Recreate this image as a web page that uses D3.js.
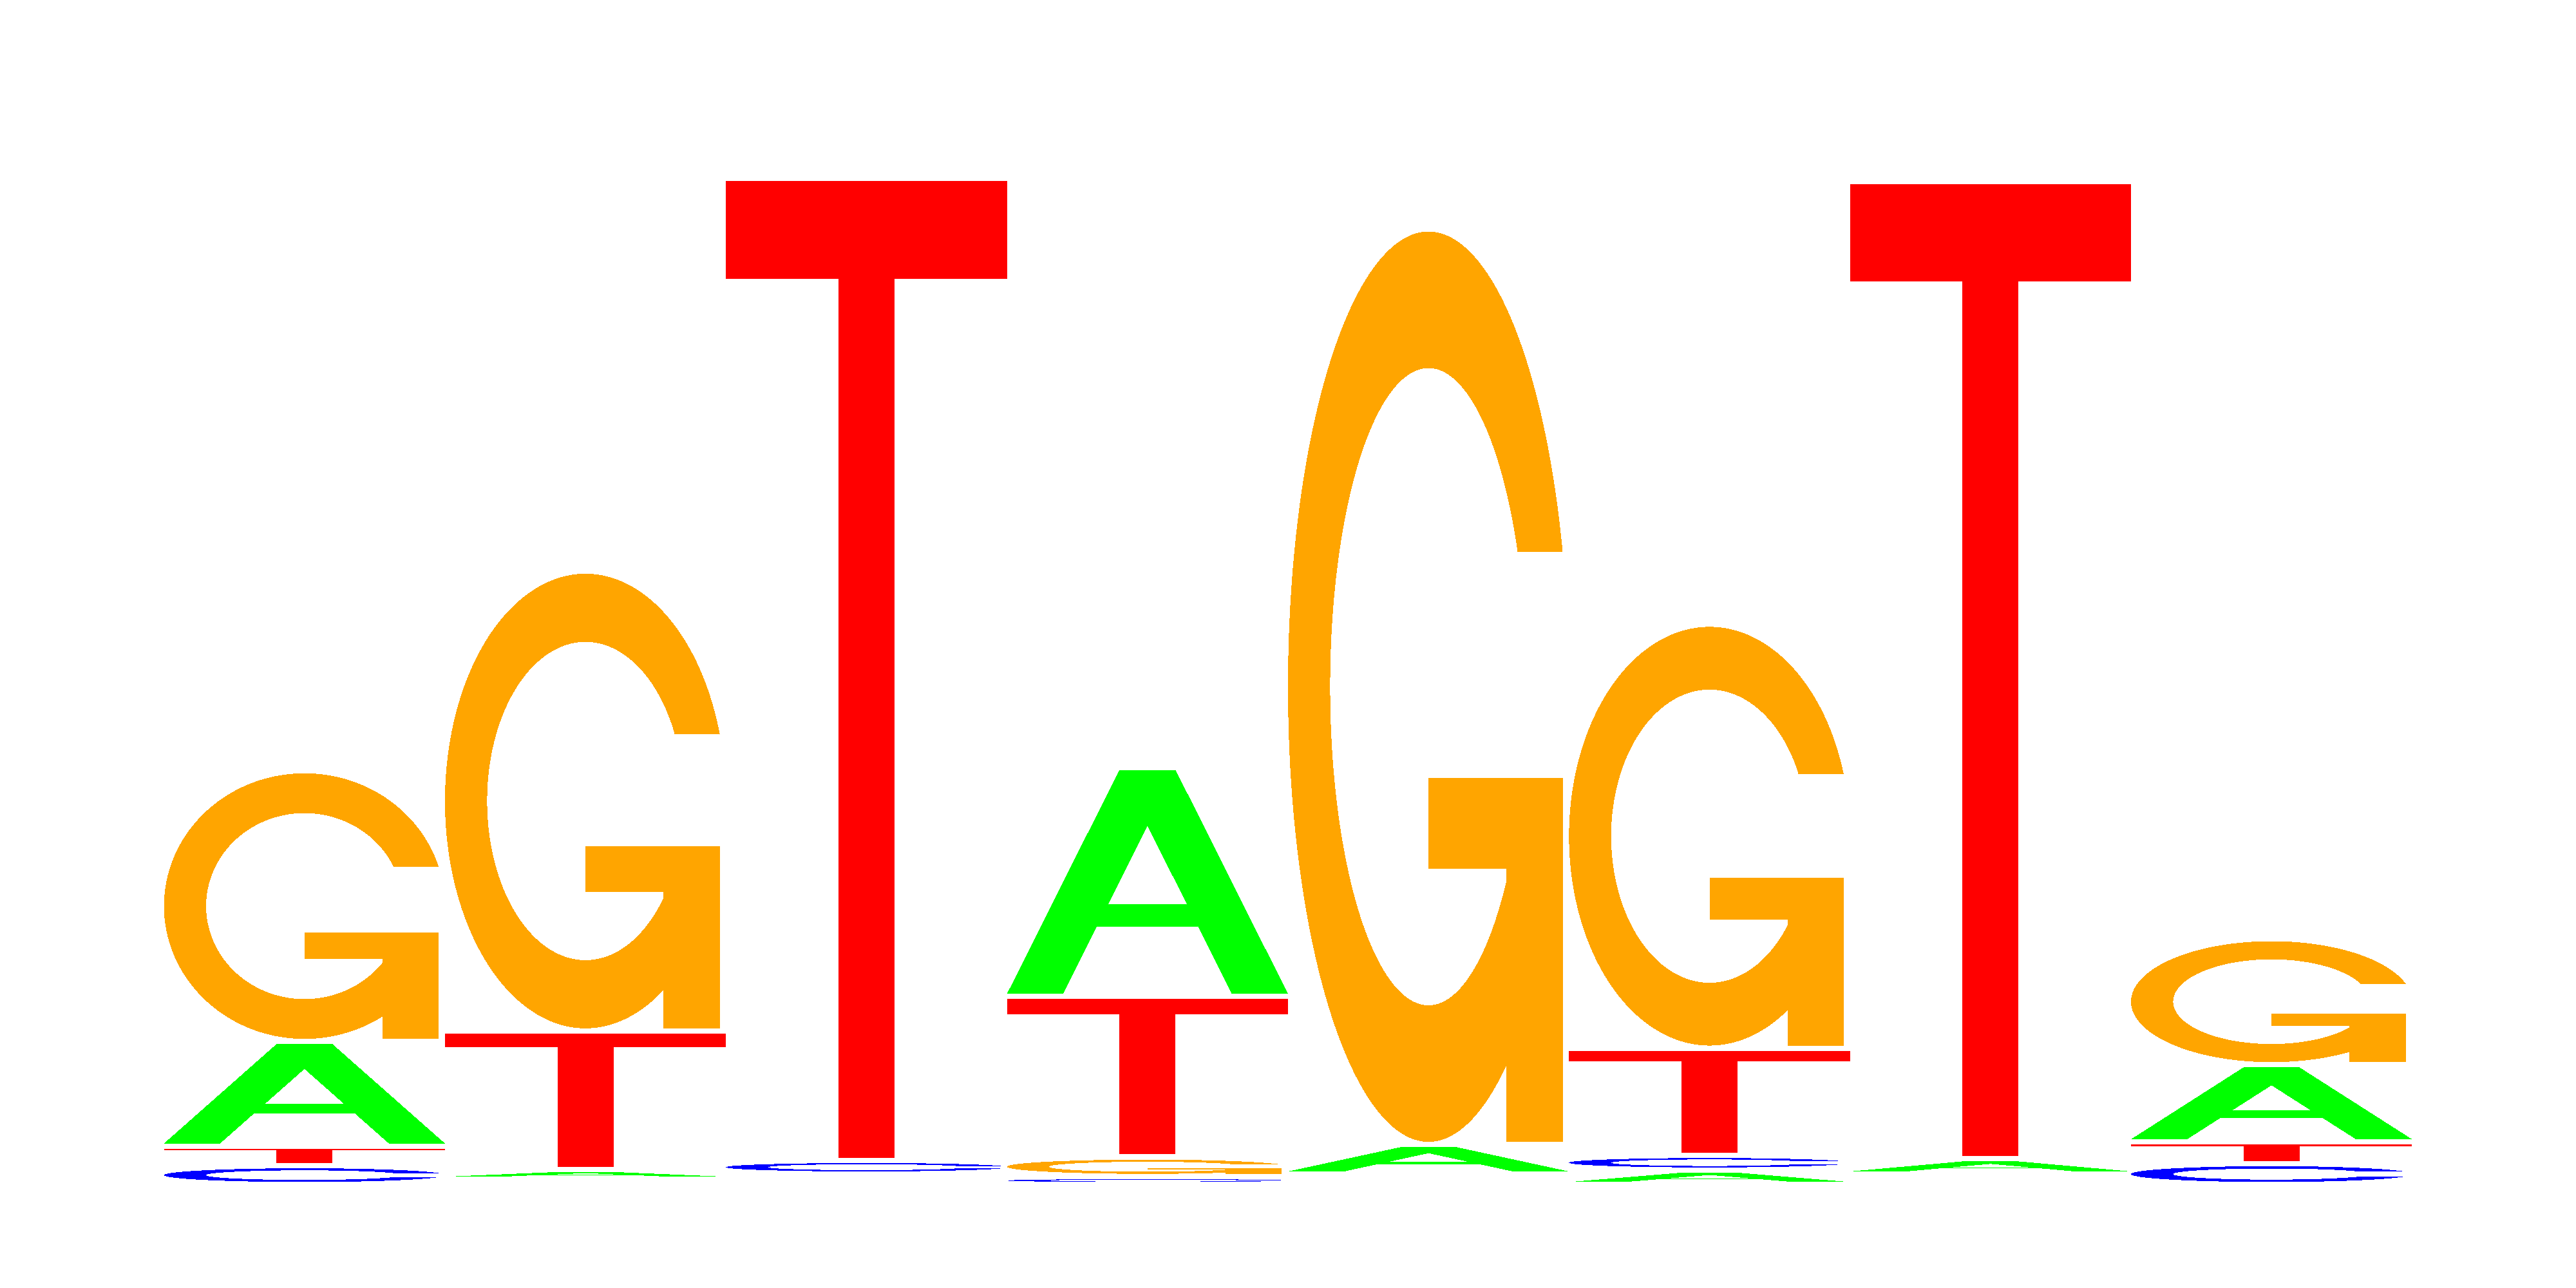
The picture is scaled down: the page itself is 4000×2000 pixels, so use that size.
<!DOCTYPE html>
<html>
<head>
<meta charset="utf-8">
<script src="https://cdn.jsdelivr.net/npm/d3@7"></script>
<style>
  html, body { margin: 0; padding: 0; background: #fff; }
  svg { display: block; }
</style>
</head>
<body>
<div id="logo"></div>
<script>
// heights in bits per position (already 0.95 * p * IC, as seqLogo does)
const positions = [1, 2, 3, 4, 5, 6, 7, 8];
const bases = ['A', 'C', 'G', 'T'];
const bitsA = [0.188, 0.009, 0, 0.424, 0.046, 0.0176, 0.019, 0.136];
const bitsC = [0.026, 0, 0.016, 0.0054, 0, 0.0178, 0, 0.030];
const bitsG = [0.503, 0.861, 0, 0.027, 1.724, 0.793, 0, 0.229];
const bitsT = [0.027, 0.252, 1.850, 0.294, 0, 0.193, 1.841, 0.031];
const ylim = 2;
const gap = 0.01;

const colors = {A: '#00ff00', C: '#0000ff', G: '#ffa500', T: '#ff0000'};

const width = 4000;
const height = 2000;
const margin = {top: 130, left: 115, bottom: 99, right: 115};

// dataViewport style: 4% extension on both ends
const xExt = positions.length * 0.04;
const yExt = ylim * 0.04;
const x = d3.scaleLinear()
    .domain([-xExt, positions.length + xExt])
    .range([margin.left, width - margin.right]);
const y = d3.scaleLinear()
    .domain([-yExt, ylim + yExt])
    .range([height - margin.bottom, margin.top]);

// letter shapes in a unit box, (0,0) bottom-left ________________________________
function ring() {
    const n = 100;
    const a1 = d3.range(n).map(i => 0.3 + Math.PI / 2 + i * (Math.PI / 2 - 0.3) / (n - 1));
    const a2 = d3.range(n).map(i => Math.PI + i * (Math.PI / 2) / (n - 1));
    const xl1 = a1.map(a => 0.5 + 0.5 * Math.sin(a)), yl1 = a1.map(a => 0.5 + 0.5 * Math.cos(a));
    const xl2 = a2.map(a => 0.5 + 0.5 * Math.sin(a)), yl2 = a2.map(a => 0.5 + 0.5 * Math.cos(a));
    const xl = xl1.concat(xl2), yl = yl1.concat(yl2);
    const xo = xl.concat(xl.slice().reverse());
    const yo = yl.concat(yl.slice().reverse().map(v => 1 - v));

    const maxY = d3.max(yl1);
    let xi1 = a1.map(a => 0.5 + 0.35 * Math.sin(a));
    let yi1 = a1.map(a => 0.5 + 0.35 * Math.cos(a));
    const keep = yi1.map(v => v <= maxY);
    xi1 = xi1.filter((d, i) => keep[i]);
    yi1 = yi1.filter((d, i) => keep[i]);
    yi1[0] = maxY;
    const xi2 = a2.map(a => 0.5 + 0.35 * Math.sin(a));
    const yi2 = a2.map(a => 0.5 + 0.35 * Math.cos(a));
    const xi = xi1.concat(xi2), yi = yi1.concat(yi2);
    const x1 = xi.concat(xi.slice().reverse());
    const y1 = yi.concat(yi.slice().reverse().map(v => 1 - v));

    const px = xo.concat(x1.slice().reverse());
    const py = yo.concat(y1.slice().reverse());
    return {pts: px.map((v, i) => [v, py[i]]), r1: d3.max(xl1)};
}

const glyphs = {
    A: [
        {fill: colors.A, pts: [[0,0],[4,10],[6,10],[10,0],[8,0],[6.8,3],[3.2,3],[2,0],[0,0]].map(p => [p[0] / 10, p[1] / 10])},
        {fill: '#ffffff', pts: [[3.6,4],[5,7.5],[6.4,4],[3.6,4]].map(p => [p[0] / 10, p[1] / 10])}
    ],
    C: [{fill: colors.C, pts: ring().pts}],
    G: (() => {
        const r = ring();
        const h1 = 0.4;
        return [
            {fill: colors.G, pts: r.pts},
            {fill: colors.G, pts: [[r.r1,h1],[0.5,h1],[0.5,h1-0.1],[r.r1-0.2,h1-0.1],[r.r1-0.2,0],[r.r1,0],[r.r1,h1]]}
        ];
    })(),
    T: [{fill: colors.T, pts: [[0,10],[10,10],[10,9],[6,9],[6,0],[4,0],[4,9],[0,9]].map(p => [p[0] / 10, p[1] / 10])}]
};

// stack the letters, smallest at the bottom ___________________________________
const bits = {A: bitsA, C: bitsC, G: bitsG, T: bitsT};
const letters = [];
positions.forEach((pos, j) => {
    const order = d3.range(4).sort((a, b) => bits[bases[a]][j] - bits[bases[b]][j] || a - b);
    let ypos = 0;
    for (const k of order) {
        const base = bases[k];
        const ht = bits[base][j];
        if (ht > 0) letters.push({base, x0: pos - 1, y0: ypos, ht});
        ypos += ht + gap;
    }
});

const svg = d3.select('#logo').append('svg')
    .attr('width', width)
    .attr('height', height)
    .style('background', '#fff');

const line = d3.line();

const g = svg.append('g').attr('shape-rendering', 'crispEdges');
for (const l of letters) {
    for (const part of glyphs[l.base]) {
        g.append('path')
            .attr('d', line(part.pts.map(p => [x(l.x0 + p[0]), y(l.y0 + p[1] * l.ht)])) + 'Z')
            .attr('fill', part.fill)
            .attr('stroke', 'none');
    }
}
</script>
</body>
</html>
